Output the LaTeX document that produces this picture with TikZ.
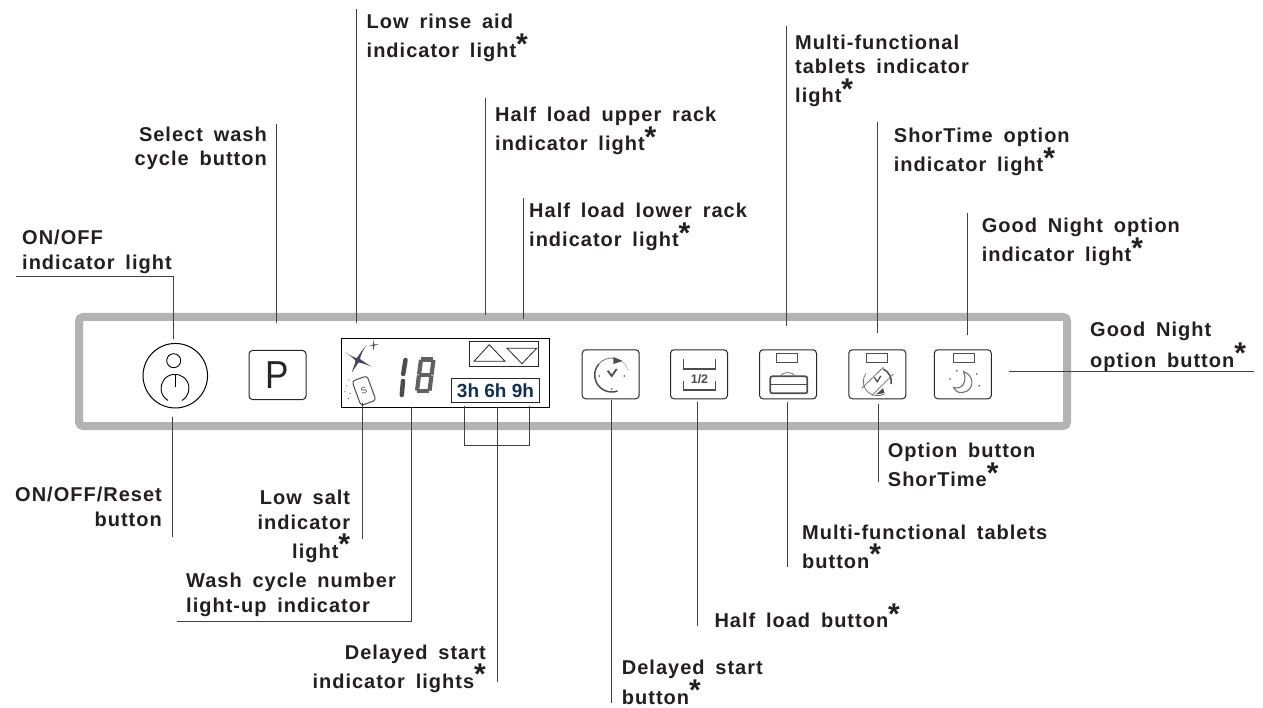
\documentclass[tikz,border=0pt]{standalone}
\usepackage{fontspec}
\setmainfont{Liberation Sans}
\newfontfamily\lblfont[LetterSpace=5,WordSpace=1.65]{Liberation Sans}
\newcommand{\stark}{\smash{\raisebox{3.5pt}{\fontsize{30}{30}\selectfont*}}}
\definecolor{inkgray}{HTML}{4D4D4D}
\definecolor{bandgray}{HTML}{B3B3B3}
\definecolor{labelink}{HTML}{231F20}
\definecolor{navyink}{HTML}{12304F}
\usetikzlibrary{positioning, calc}

\begin{document}
\begin{tikzpicture}[x=1pt, y=-1pt,
                leader/.style ={draw=black!75, line width=0.9pt},
                lbl/.style    ={font=\lblfont\bfseries\fontsize{20}{24.3}\selectfont, text=labelink, inner sep=0pt, align=left, anchor=base west},
                lblr/.style   ={lbl, align=right, anchor=base east},
                btn/.style    ={draw=black!85, line width=1pt, rounded corners=3.5pt, minimum width=57pt, minimum height=49pt, inner sep=0pt},
                lamp/.style   ={draw=inkgray, line width=0.9pt, minimum width=21pt, minimum height=8.5pt, inner sep=0pt},
                ico/.style    ={draw=inkgray, line width=1.5pt},
                thinico/.style={draw=inkgray!80, line width=0.8pt},
                dotmark/.style={fill=inkgray, draw=none, circle, minimum size=1.8pt, inner sep=0pt}
            ]
            \useasboundingbox (0,0) rectangle (1263,708);

            %% ---- panel frame -------------------------------------------------
            \node[draw=bandgray, line width=8pt, rounded corners=4pt, minimum width=988pt, minimum height=109pt, inner sep=0pt] (panel) at (573,371.5) {};

            %% ---- power button and P button ----------------------------------
            \node[draw=black, line width=1pt, circle, minimum size=64.5pt, inner sep=0pt] (power) at (175.3,375.7) {};
            \node[draw=black, line width=0.9pt, circle, minimum size=14pt, inner sep=0pt] (onlamp) at (173.7,360.7) {};
            \coordinate (powcentre) at (175,388.3);
            \draw[black, line width=0.9pt] (powcentre) ++(60:14) arc (60:-240:14);
            \coordinate (powtop) at (175,375);
            \coordinate (powbar) at (175,387);
            \draw[black, line width=0.9pt] (powtop) -- (powbar);
            \node[btn] (pbtn) at (277.5,375) {};
            \node[font=\fontsize{39}{39}\selectfont, text=black!85, xscale=0.9] (pchar) at (277.5,375.5) {P};

            %% ---- display ----------------------------------------------------
            \node[draw=black, line width=1.1pt, minimum width=207.5pt, minimum height=69pt, inner sep=0pt] (display) at (445.5,372.8) {};
            \node[draw=black!85, line width=0.9pt, minimum width=69pt, minimum height=24.3pt, inner sep=0pt] (rackbox) at (504.2,353.8) {};
            \draw[black!85, line width=0.8pt] (474,361.3) -- (489.3,344.7) -- (505,361.3) -- cycle;
            \draw[black!85, line width=0.8pt] (507,348.3) -- (536.7,348.3) -- (522,363.7) -- cycle;
            \node[draw=black!85, line width=0.9pt, minimum width=87.6pt, minimum height=24pt, inner sep=0pt, text=navyink, font=\bfseries\fontsize{19}{19}\selectfont] (hours) at (495.5,390.7) {3h 6h 9h};

            % rinse aid stars
            \fill[inkgray!90!blue] (345,352.3) .. controls (352,356.5) and (355.5,358) .. (357,358)
                .. controls (359,355) and (362,350) .. (366.7,345)
                .. controls (362.5,351) and (360.5,355.5) .. (360,359)
                .. controls (363,361) and (367,364) .. (371.7,366.7)
                .. controls (366,364.5) and (362,363) .. (358.5,362.5)
                .. controls (357,365) and (354,369) .. (351.7,372.7)
                .. controls (353,368) and (355,364) .. (355.5,361)
                .. controls (354,358.5) and (350,355.5) .. cycle;
            \fill[inkgray] (373.7,339.5) -- (374.3,344.5) -- (379,344) -- (374.4,345.6) -- (373.3,350.5) -- (373,345.7) -- (368.5,346.3) -- (373,344.6) -- cycle;

            % salt symbol
            \node[draw=inkgray, line width=1pt, rounded corners=3pt, rotate=20, minimum width=16pt, minimum height=26pt, inner sep=0pt, font=\fontsize{9}{9}\selectfont, text=inkgray] (salt) at (364,390.7) {S};
            \foreach \dx/\dy in {349/380, 346.7/386, 345/391.7, 350/393.3, 348.3/398.3}
                \node[dotmark, minimum size=1.3pt] at (\dx,\dy) {};

            % cycle number digits
            \draw[black!70, line width=4.5pt, line cap=round] (405.5,360) -- (403.2,374);
            \draw[black!70, line width=4.5pt, line cap=round] (403,381) -- (401.8,395);
            \foreach \ax/\ay/\bx/\by in {421/359.5/433.5/359.5, 433.5/359.5/431.5/375, 431.5/375/429.5/391,
                    429.5/391/417/391, 417/391/419/375, 419/375/421/359.5, 419/375/431.5/375}
                \draw[black!62, line width=4.2pt, shorten >=0.4pt, shorten <=0.4pt] (\ax,\ay) -- (\bx,\by);

            %% ---- delayed start button ---------------------------------------
            \node[btn] (delaybtn) at (610.7,374.3) {};
            \coordinate (clock) at (611.7,375);
            \draw[ico] (clock) ++(70:17) arc (70:220:17);
            \draw[thinico] (clock) ++(220:17) arc (220:280:17);
            \draw[draw=inkgray!50, line width=0.5pt] (clock) ++(280:17) arc (280:345:17);
            \fill[inkgray] (613.3,357) -- (622.7,361) -- (613.3,364) -- cycle;
            \draw[ico, line width=1.8pt] (607.7,370.7) -- (611.7,376) -- (616.7,369);
            \node[dotmark] at (599.3,376) {};
            \node[dotmark] at (624.3,376) {};
            \node[dotmark] at (611.7,389) {};

            %% ---- half load button -------------------------------------------
            \node[btn] (halfbtn) at (699,374.3) {};
            \draw[ico] (683.7,359.3) -- (683.7,369) -- (715.7,369) -- (715.7,359.3);
            \draw[ico] (683.7,380.7) -- (683.7,390) -- (715.7,390) -- (715.7,380.7);
            \node[font=\bfseries\fontsize{12.5}{12.5}\selectfont, text=inkgray, inner sep=0pt] (halftxt) at (699.5,379.5) {1/2};

            %% ---- tablets button ---------------------------------------------
            \node[btn] (tabbtn) at (788,374.3) {};
            \node[lamp] (tablamp) at (787.3,357.7) {};
            \draw[ico, line width=1.7pt, rounded corners=2pt] (770.3,376.3) rectangle (807.3,393.3);
            \draw[ico] (770.3,384.5) -- (807.3,384.5);
            \draw[thinico] (780,376.3) .. controls (783,371.2) and (792,371.2) .. (795.3,376.3);

            %% ---- ShorTime button --------------------------------------------
            \node[btn] (shortbtn) at (877.3,374.3) {};
            \node[lamp] (shortlamp) at (877.2,357.7) {};
            \coordinate (shortc) at (877.3,381.7);
            \draw[thinico] (shortc) ++(60:14) arc (60:215:14);
            \draw[ico] (shortc) ++(10:14) arc (10:-65:14);
            \fill[inkgray] (884.5,393) -- (876,394.5) -- (880,391) -- (883,388) -- cycle;
            \draw[thinico] (861.7,388.3) -- (883.3,367.3);
            \draw[thinico] (871.7,395.7) -- (893.3,374);
            \draw[ico, line width=1.3pt] (874.3,377.3) -- (877.3,381.7) -- (880.7,376);

            %% ---- Good Night button ------------------------------------------
            \node[btn] (nightbtn) at (962.8,374.3) {};
            \node[lamp] (nightlamp) at (964,357.7) {};
            \draw[thinico, line width=1.1pt] (963.5,371.5) .. controls (973,375) and (975,386) .. (967,391)
                .. controls (961,394.5) and (955,392) .. (953.5,387.5)
                .. controls (961,390) and (968,383) .. cycle;
            \foreach \dx/\dy in {956.7/370.7, 950/379, 976.7/374, 979.3/385.7}
                \node[dotmark] at (\dx,\dy) {};

            %% ---- upper labels -----------------------------------------------
            \node[lbl]  (lonoff) at (22,269.3) {ON/OFF\\indicator light};
            \node[lblr] (lselect) at (267,166) {Select wash\\cycle button};
            \node[lbl]  (lrinse) at (366.5,58) {Low rinse aid\\[5pt]indicator light\stark};
            \node[lbl]  (lupper) at (495,150.7) {Half load upper rack\\[5pt]indicator light\stark};
            \node[lbl]  (llower) at (529,246.7) {Half load lower rack\\[5pt]indicator light\stark};
            \node[lbl]  (lmulti) at (795,102.7) {Multi-functional\\tablets indicator\\[5pt]light\stark};
            \node[lbl]  (lshort) at (893.7,171.7) {ShorTime option\\[5pt]indicator light\stark};
            \node[lbl]  (lnight) at (981.7,261.7) {Good Night option\\[5pt]indicator light\stark};
            \node[lbl]  (lgnbtn) at (1090,367.3) {Good Night\\[6pt]option button\stark};

            %% ---- lower labels -----------------------------------------------
            \node[lblr] (lreset) at (162,526) {ON/OFF/Reset\\button};
            \node[lblr] (lsalt) at (350.3,558.3) {Low salt\\indicator\\[5pt]light\stark};
            \node[lbl]  (lwash) at (186,612) {Wash cycle number\\light-up indicator};
            \node[lblr] (ldelayl) at (486,688.3) {Delayed start\\[5pt]indicator lights\stark};
            \node[lbl]  (ldelayb) at (621.7,704) {Delayed start\\[5pt]button\stark};
            \node[lbl]  (lhalf) at (714.3,627.7) {Half load button\stark};
            \node[lbl]  (ltabbtn) at (802,568.3) {Multi-functional tablets\\[5pt]button\stark};
            \node[lbl]  (loption) at (887.7,486.7) {Option button\\[5pt]ShorTime\stark};

            %% ---- leader lines, upper ----------------------------------------
            \coordinate (a1) at (16,276.6);    \coordinate (a2) at (173.4,276.6);  \coordinate (a3) at (173.4,339.3);
            \draw[leader] (a1) -- (a2) -- (a3);
            \coordinate (b1) at (276.8,124);   \coordinate (b2) at (276.8,322.7);  \draw[leader] (b1) -- (b2);
            \coordinate (c1) at (356.7,9.3);   \coordinate (c2) at (356.7,322.7);  \draw[leader] (c1) -- (c2);
            \coordinate (d1) at (485.3,98.3);  \coordinate (d2) at (485.3,315.3);  \draw[leader] (d1) -- (d2);
            \coordinate (e1) at (523.7,198.3); \coordinate (e2) at (523.7,319.3);  \draw[leader] (e1) -- (e2);
            \coordinate (f1) at (786.4,26);    \coordinate (f2) at (786.4,326);    \draw[leader] (f1) -- (f2);
            \coordinate (g1) at (877.3,122.3); \coordinate (g2) at (877.3,333.3);  \draw[leader] (g1) -- (g2);
            \coordinate (h1) at (967.3,213.3); \coordinate (h2) at (967.3,335);    \draw[leader] (h1) -- (h2);
            \coordinate (i1) at (1008.7,371.7); \coordinate (i2) at (1254,371.7);  \draw[leader] (i1) -- (i2);

            %% ---- leader lines, lower ----------------------------------------
            \coordinate (j1) at (172.7,416.7); \coordinate (j2) at (172.7,536.7);  \draw[leader] (j1) -- (j2);
            \coordinate (k1) at (362,403);     \coordinate (k2) at (362,539.3);    \draw[leader] (k1) -- (k2);
            \coordinate (m1) at (411,406.7);   \coordinate (m2) at (411,621.7);    \coordinate (m3) at (177.3,621.7);
            \draw[leader] (m1) -- (m2) -- (m3);
            \coordinate (n1) at (497.3,406.7); \coordinate (n2) at (497.3,681.7);  \draw[leader] (n1) -- (n2);
            \coordinate (n3) at (464.3,405.5); \coordinate (n4) at (464.3,445.3);
            \coordinate (n5) at (529,445.3);   \coordinate (n6) at (529,405.5);
            \draw[leader] (n3) -- (n4) -- (n5) -- (n6);
            \coordinate (o1) at (611.3,400);   \coordinate (o2) at (611.3,703.3);  \draw[leader] (o1) -- (o2);
            \coordinate (p1) at (697.7,401.7); \coordinate (p2) at (697.7,626);    \draw[leader] (p1) -- (p2);
            \coordinate (q1) at (787.4,402);   \coordinate (q2) at (787.4,566.7);  \draw[leader] (q1) -- (q2);
            \coordinate (r1) at (878.2,404);   \coordinate (r2) at (878.2,481.7);  \draw[leader] (r1) -- (r2);

        \end{tikzpicture}
\end{document}
